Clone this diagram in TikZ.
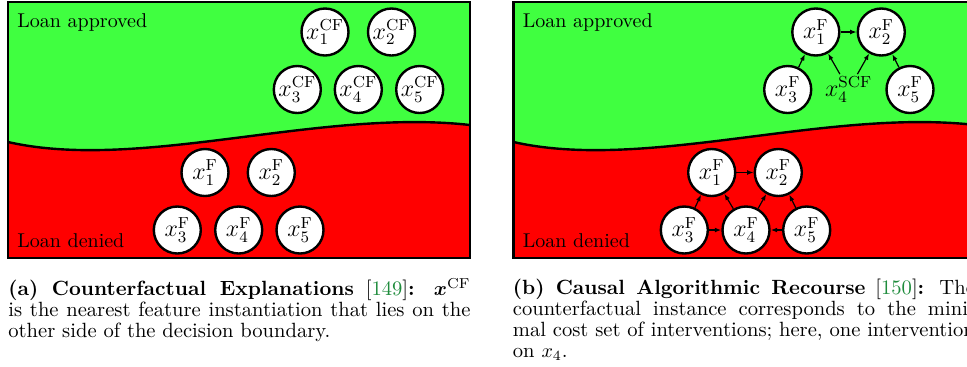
\documentclass[tikz,border=0pt]{standalone}
\usepackage{amsmath}
\usepackage{fontspec}
\usetikzlibrary{arrows.meta}
\definecolor{okgreen}{RGB}{64,255,64}
\definecolor{citegreen}{RGB}{30,140,60}
\tikzset{
  fnode/.style={circle, draw, line width=1.2pt, fill=white, minimum size=23.5pt, inner sep=0pt, font=\large},
  lbl/.style={anchor=base west, inner sep=0pt, font=\normalsize},
  arr/.style={-{Latex[length=3.2pt,width=2.4pt]}, line width=0.6pt},
  capt/.style={anchor=base west, inner sep=0pt},
  boundary/.style={line width=1.2pt},
  frame/.style={line width=1.4pt},
}
\newcommand\loanpanel[1]{%
  \fill[okgreen] (8,2) rectangle (470,258);
  \fill[red] (8,142) .. controls (140,172) and (320,108) .. (470,125) -- (470,258) -- (8,258) -- cycle;
  \draw[boundary] (8,142) .. controls (140,172) and (320,108) .. (470,125);
  \draw[frame] (8,2) rectangle (470,258);
  \node[lbl] (#1app) at (17,27) {Loan approved};
  \node[lbl] (#1den) at (17,247) {Loan denied};
}
\newcommand\captfont{\fontsize{10.3}{10.45}\selectfont}
\begin{document}
\begin{tikzpicture}[x=0.5pt,y=-0.5pt]
\useasboundingbox (0,0) rectangle (967,366);
\begin{scope}
\clip (0,0) rectangle (967,366);
\fill[white] (0,0) rectangle (967,366);
\loanpanel{L}
\begin{scope}[shift={(505.5,0)}]
\loanpanel{R}
\end{scope}

% left panel nodes
\node[fnode] (a1) at (325,32) {$x_1^{\mathrm{CF}}$};
\node[fnode] (a2) at (391.5,32) {$x_2^{\mathrm{CF}}$};
\node[fnode] (a3) at (297.3,89.5) {$x_3^{\mathrm{CF}}$};
\node[fnode] (a4) at (358.3,89.5) {$x_4^{\mathrm{CF}}$};
\node[fnode] (a5) at (419.7,89.5) {$x_5^{\mathrm{CF}}$};
\node[fnode] (f1) at (205,172.5) {$x_1^{\mathrm{F}}$};
\node[fnode] (f2) at (271.3,172.5) {$x_2^{\mathrm{F}}$};
\node[fnode] (f3) at (177.3,230) {$x_3^{\mathrm{F}}$};
\node[fnode] (f4) at (238.7,230) {$x_4^{\mathrm{F}}$};
\node[fnode] (f5) at (300,230) {$x_5^{\mathrm{F}}$};

% right panel nodes (approved side)
\node[fnode] (t1) at (815.8,32) {$x_1^{\mathrm{F}}$};
\node[fnode] (t2) at (881.3,32) {$x_2^{\mathrm{F}}$};
\node[fnode] (t3) at (787.7,89.5) {$x_3^{\mathrm{F}}$};
\node[inner sep=1pt, font=\large] (t4) at (848.7,89.5) {$x_4^{\mathrm{SCF}}$};
\node[fnode] (t5) at (910,89.5) {$x_5^{\mathrm{F}}$};
\draw[arr] (t1) -- (t2);
\draw[arr] (t3) -- (t1);
\draw[arr] (t4) -- (t1);
\draw[arr] (t4) -- (t2);
\draw[arr] (t5) -- (t2);

% right panel nodes (denied side)
\node[fnode] (b1) at (711.7,172.5) {$x_1^{\mathrm{F}}$};
\node[fnode] (b2) at (778.3,172.5) {$x_2^{\mathrm{F}}$};
\node[fnode] (b3) at (684.3,230) {$x_3^{\mathrm{F}}$};
\node[fnode] (b4) at (746,230) {$x_4^{\mathrm{F}}$};
\node[fnode] (b5) at (806.7,230) {$x_5^{\mathrm{F}}$};
\draw[arr] (b1) -- (b2);
\draw[arr] (b3) -- (b1);
\draw[arr] (b4) -- (b1);
\draw[arr] (b4) -- (b2);
\draw[arr] (b5) -- (b2);
\draw[arr] (b3) -- (b4);
\draw[arr] (b5) -- (b4);

% captions
\node[capt] (capa) at (8,295.5) {\parbox[t]{231pt}{\captfont
\makebox[231pt][s]{\textbf{(a) Counterfactual Explanations} [\textcolor{citegreen}{149}]\textbf{:} $\boldsymbol{x}^{\mathrm{CF}}$}\\
\makebox[231pt][s]{is the nearest feature instantiation that lies on the}\\
other side of the decision boundary.}};
\node[capt] (capb) at (512.5,294.5) {\parbox[t]{231pt}{\captfont
\makebox[231pt][s]{\textbf{(b) Causal Algorithmic Recourse} [\textcolor{citegreen}{150}]\textbf{:} The}\\
\makebox[231pt][s]{counterfactual instance corresponds to the mini-}\\
\makebox[231pt][s]{mal cost set of interventions; here, one intervention}\\
on $x_4$.}};
\end{scope}
\end{tikzpicture}
\end{document}
